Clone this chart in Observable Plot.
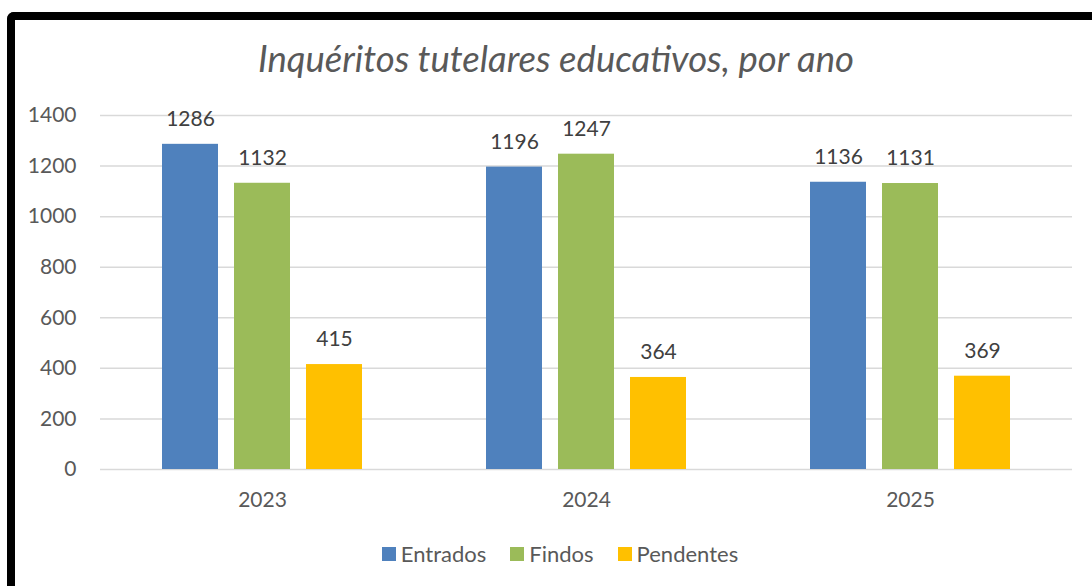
<!DOCTYPE html>
<html><head><meta charset="utf-8">
<script src="https://cdn.jsdelivr.net/npm/d3@7"></script>
<script src="https://cdn.jsdelivr.net/npm/@observablehq/plot@0.6"></script>
<style>
html,body{margin:0;padding:0;background:#fff;overflow:hidden;width:1092px;height:586px;}
body{position:relative;font-family:Lato,"Open Sans",sans-serif;}
#frame{position:absolute;left:7px;top:12px;width:1120px;height:620px;border-left:8px solid #000;border-top:8px solid #000;border-top-left-radius:7px;box-sizing:border-box;}
#title{position:absolute;left:0;width:1112px;top:34px;text-align:center;font-style:italic;font-size:36.5px;color:#595959;line-height:48px;white-space:nowrap;}
#chart{position:absolute;left:0;top:90px;}
#legend{position:absolute;left:0;width:1120px;top:538px;text-align:center;font-size:22px;color:#595959;line-height:30px;white-space:nowrap;}
.item{display:inline-flex;align-items:center;margin:0 12px;}
.sw{display:inline-block;width:14px;height:14px;margin-right:5px;}
</style></head>
<body>
<div id="frame"></div>
<div id="title">Inquéritos tutelares educativos, por ano</div>
<div id="chart"></div>
<div id="legend"></div>
<script>
const years = ["2023", "2024", "2025"];
const series = ["Entrados", "Findos", "Pendentes"];
const entrados = [1286, 1196, 1136];
const findos = [1132, 1247, 1131];
const pendentes = [415, 364, 369];
const colors = ["#4F81BD", "#9BBB59", "#FFC000"];
const yTicks = [0, 200, 400, 600, 800, 1000, 1200, 1400];

const valuesBySeries = [entrados, findos, pendentes];
const data = [];
years.forEach((yr, i) => series.forEach((s, j) => data.push({year: yr, series: s, value: valuesBySeries[j][i]})));

const chart = Plot.plot({
  width: 1092,
  height: 430,
  marginLeft: 100,
  marginRight: 20,
  marginTop: 25,
  marginBottom: 51,
  style: {fontFamily: "Lato, 'Open Sans', sans-serif", fontSize: "21px", color: "#595959", background: "transparent"},
  fx: {domain: years, padding: 0, label: null, axis: "bottom", tickSize: 0, tickPadding: 23},
  x: {domain: series, paddingInner: 0.222, paddingOuter: 0.861, axis: null},
  y: {domain: [0, 1400], ticks: yTicks, tickFormat: d => String(d), tickSize: 0, tickPadding: 24, label: null, grid: false},
  color: {domain: series, range: colors},
  marks: [
    Plot.ruleY(yTicks, {stroke: "#D9D9D9", strokeWidth: 1.5}),
    Plot.barY(data, {fx: "year", x: "series", y: "value", fill: "series"}),
    Plot.text(data, {fx: "year", x: "series", y: "value", text: d => String(d.value), dy: -25, fill: "#404040", fontSize: 21})
  ]
});
document.getElementById("chart").appendChild(chart);

const legend = document.getElementById("legend");
series.forEach((s, j) => {
  const it = document.createElement("span");
  it.className = "item";
  const sw = document.createElement("span");
  sw.className = "sw";
  sw.style.background = colors[j];
  it.appendChild(sw);
  it.appendChild(document.createTextNode(s));
  legend.appendChild(it);
});
</script>
</body></html>
